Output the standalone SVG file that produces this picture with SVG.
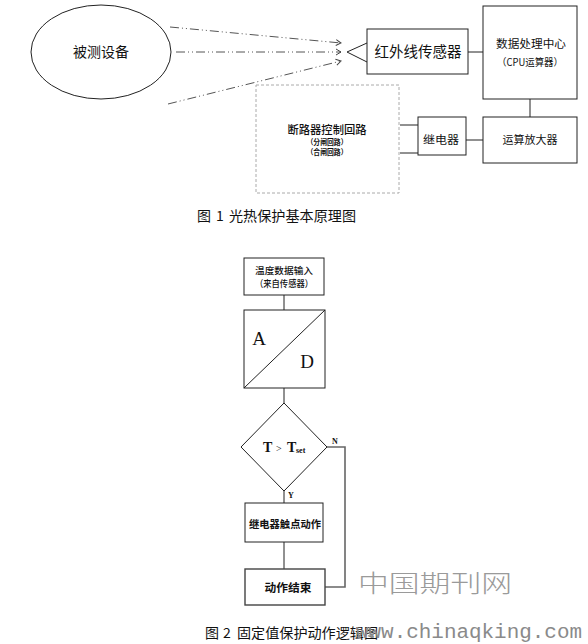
<svg xmlns="http://www.w3.org/2000/svg" width="588" height="644" viewBox="0 0 588 644">
<style>
.bx{fill:#fff;stroke:#222;stroke-width:1}
.ln{fill:none;stroke:#222;stroke-width:1}
.cj{font-family:"Noto Sans CJK SC","Liberation Sans",sans-serif;fill:#111;text-anchor:middle}
.cap{font-family:"Noto Sans CJK SC","Liberation Sans",sans-serif;fill:#111;font-size:14px}
.sf{font-family:"Liberation Serif",serif;fill:#111}
.ray{fill:none;stroke:#555;stroke-width:1;stroke-dasharray:9 3 1 3 1 3}
</style>
<defs>
<marker id="ch" markerWidth="7" markerHeight="8" refX="6" refY="4" orient="auto" markerUnits="userSpaceOnUse">
<path d="M1,1 L6,4 L1,7" fill="none" stroke="#444" stroke-width="1"/>
</marker>
</defs>
<rect width="588" height="644" fill="#fff"/>

<g id="connectors">
<path class="ray" d="M170,27 L341,43" marker-end="url(#ch)"/>
<path class="ray" d="M176,52 L341,52" marker-end="url(#ch)"/>
<path class="ray" d="M168,104 L341,61" marker-end="url(#ch)"/>
<path class="ln" d="M468,52 H483"/>
<path class="ln" d="M530,99 V117"/>
<path class="ln" d="M466,140 H483"/>
<path class="ln" d="M400,125 H418"/>
<path class="ln" d="M400,153 H418"/>
<path class="ln" d="M284,295 V310"/>
<path class="ln" d="M284,388 V403"/>
<path class="ln" d="M284,491 V503"/>
<path class="ln" d="M284,542 V569"/>
<path d="M327,447 H345 V587 H325" fill="none" stroke="#666" stroke-width="1.6"/>
</g>

<g id="device">
<ellipse cx="101" cy="52" rx="70" ry="47" fill="#fff" stroke="#222" stroke-width="1"/>
<text class="cj" x="101" y="57" font-size="14">被测设备</text>
</g>

<g id="sensor">
<path class="ln" d="M367,43 L347,52 L367,62"/>
<rect class="bx" x="367" y="29" width="101" height="45"/>
<text class="cj" x="418" y="57" font-size="14.5">红外线传感器</text>
</g>

<g id="cpu">
<rect class="bx" x="483" y="6" width="94" height="93"/>
<text class="cj" x="531" y="48" font-size="11" textLength="70" lengthAdjust="spacingAndGlyphs">数据处理中心</text>
<text class="cj" x="530" y="66" font-size="10" textLength="66" lengthAdjust="spacingAndGlyphs">（CPU运算器）</text>
</g>

<g id="opamp">
<rect class="bx" x="483" y="117" width="94" height="46"/>
<text class="cj" x="530" y="144" font-size="11" textLength="55" lengthAdjust="spacingAndGlyphs">运算放大器</text>
</g>

<g id="relay">
<rect class="bx" x="418" y="117" width="48" height="38"/>
<text class="cj" x="441" y="144" font-size="11" textLength="36" lengthAdjust="spacingAndGlyphs">继电器</text>
</g>

<g id="breaker">
<rect x="256" y="85" width="143" height="108" fill="#fff" stroke="#aaa" stroke-width="1" stroke-dasharray="3 2"/>
<text class="cj" x="327" y="134" font-size="11" font-weight="500" textLength="79" lengthAdjust="spacingAndGlyphs">断路器控制回路</text>
<text class="cj" x="327" y="145" font-size="7.5" font-weight="bold" textLength="41" lengthAdjust="spacingAndGlyphs">（分闸回路）</text>
<text class="cj" x="327" y="155" font-size="7.5" font-weight="bold" textLength="41" lengthAdjust="spacingAndGlyphs">（合闸回路）</text>
</g>

<g id="caption1">
<text class="cap" x="197" y="221">图</text>
<text class="cap" x="216" y="221">1</text>
<text class="cap" x="229" y="221" textLength="127" lengthAdjust="spacingAndGlyphs">光热保护基本原理图</text>
</g>

<g id="input">
<rect class="bx" x="244" y="258" width="80" height="37"/>
<text class="cj" x="284" y="274" font-size="9.5" font-weight="500" textLength="58" lengthAdjust="spacingAndGlyphs">温度数据输入</text>
<text class="cj" x="284" y="287" font-size="9.5" font-weight="500" textLength="58" lengthAdjust="spacingAndGlyphs">（来自传感器）</text>
</g>

<g id="adc">
<rect class="bx" x="244" y="310" width="81" height="78"/>
<path class="ln" d="M244,388 L325,310"/>
<text class="sf" x="259" y="345" font-size="19" text-anchor="middle">A</text>
<text class="sf" x="307" y="368" font-size="19" text-anchor="middle">D</text>
</g>

<g id="decision">
<polygon points="284,403 327,447 284,491 241,447" fill="#fff" stroke="#222" stroke-width="1"/>
<text class="sf" x="263" y="452" font-size="14" font-weight="bold">T</text>
<text class="sf" x="276" y="452" font-size="10">&gt;</text>
<text class="sf" x="287" y="452" font-size="14" font-weight="bold">T</text>
<text class="sf" x="296" y="453" font-size="8" font-weight="bold">set</text>
<text class="sf" x="332" y="444" font-size="8" font-weight="bold">N</text>
<text class="sf" x="288" y="498" font-size="8" font-weight="bold">Y</text>
</g>

<g id="relayact">
<rect class="bx" x="245" y="503" width="78" height="39"/>
<text class="cj" x="285" y="528" font-size="10.5" font-weight="bold" textLength="72" lengthAdjust="spacingAndGlyphs">继电器触点动作</text>
</g>

<g id="end">
<rect x="245" y="569" width="80" height="36" fill="#fff" stroke="#444" stroke-width="1.4"/>
<text class="cj" x="288" y="592" font-size="11" font-weight="bold" textLength="47" lengthAdjust="spacingAndGlyphs">动作结束</text>
</g>

<g id="watermark">
<text x="358" y="592" font-family="'Noto Sans CJK SC',sans-serif" font-size="24" fill="#9a9a9a" font-weight="300" textLength="154" lengthAdjust="spacingAndGlyphs">中国期刊网</text>
</g>

<g id="caption2">
<text class="cap" x="205" y="638">图</text>
<text class="cap" x="223" y="638">2</text>
<text class="cap" x="237" y="638" textLength="141" lengthAdjust="spacingAndGlyphs">固定值保护动作逻辑图</text>
<text x="356" y="638" font-family="'Liberation Mono',monospace" font-size="20" fill="#8a8a8a" textLength="226" lengthAdjust="spacingAndGlyphs">www.chinaqking.com</text>
</g>
</svg>
